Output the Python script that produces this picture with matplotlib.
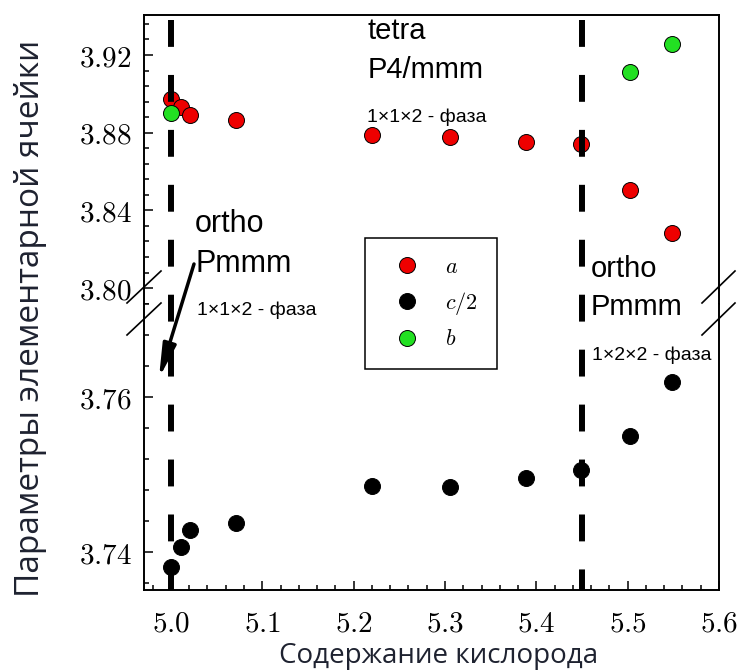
import matplotlib
matplotlib.use("Agg")
import matplotlib.pyplot as plt
from matplotlib.lines import Line2D
from matplotlib.patches import FancyArrowPatch
from matplotlib.ticker import MultipleLocator, FuncFormatter
import matplotlib.transforms as mtransforms

# ---------------- data ----------------
oxygen = [5.000, 5.011, 5.021, 5.071, 5.220, 5.305, 5.389, 5.449, 5.503, 5.549]
a_param = [3.8973, 3.8932, 3.8890, 3.8865, 3.8788, 3.8778, 3.8752, 3.8742, 3.8505, 3.8283]
c_half = [3.7381, 3.7406, 3.7428, 3.7437, 3.7485, 3.7484, 3.7495, 3.7506, 3.7550, 3.7619]
oxygen_b = [5.000, 5.503, 5.549]
b_param = [3.8901, 3.9112, 3.9257]
phase_bounds = [5.00, 5.45]
series_labels = ["$a$", "$c/2$", "$b$"]
xlabel = "Содержание кислорода"
ylabel = "Параметры элементарной ячейки"

plt.rcParams["mathtext.fontset"] = "cm"
plt.rcParams["font.family"] = ["Liberation Sans", "DejaVu Sans"]

W, H = 739, 672
fig = plt.figure(figsize=(W / 100, H / 100), dpi=100)
fig.patch.set_facecolor("white")


def fx(p):
    return p / W


def fy(p):
    return 1 - p / H


L, R, T, B, S = 144, 719, 15, 590, 304
ax_top = fig.add_axes([fx(L), fy(S), fx(R) - fx(L), fy(T) - fy(S)])
ax_bot = fig.add_axes([fx(L), fy(B), fx(R) - fx(L), fy(S) - fy(B)], sharex=ax_top)

red, green, black = "#ee0000", "#22e022", "#000000"
ms = 11.5
for ax in (ax_top, ax_bot):
    ax.plot(oxygen, a_param, "o", ms=ms, mfc=red, mec="k", mew=0.7, label=series_labels[0])
    ax.plot(oxygen, c_half, "o", ms=ms, mfc=black, mec="k", mew=0.7, label=series_labels[1])
    ax.plot(oxygen_b, b_param, "o", ms=ms, mfc=green, mec="k", mew=0.7, label=series_labels[2])
    for sp in ax.spines.values():
        sp.set_linewidth(1.4)
    ax.tick_params(axis="both", which="both", direction="in", right=False, top=False,
                   width=1.1, labelsize=21)
    ax.tick_params(which="major", length=6.5)
    ax.tick_params(which="minor", length=3.6)
    ax.set_facecolor("white")

ax_top.set_xlim(4.9705, 5.600)
ax_top.set_ylim(3.7918, 3.9406)
ax_bot.set_ylim(3.7351, 3.7720)

ax_top.spines["bottom"].set_visible(False)
ax_bot.spines["top"].set_visible(False)
ax_top.tick_params(axis="x", which="both", bottom=False, labelbottom=False)

ax_bot.xaxis.set_major_locator(MultipleLocator(0.1))
ax_bot.xaxis.set_minor_locator(MultipleLocator(0.02))
ax_top.yaxis.set_major_locator(MultipleLocator(0.04))
ax_top.yaxis.set_minor_locator(MultipleLocator(0.008))
ax_bot.yaxis.set_major_locator(MultipleLocator(0.02))
ax_bot.yaxis.set_minor_locator(MultipleLocator(0.004))

ax_bot.xaxis.set_major_formatter(FuncFormatter(lambda v, p: f"${v:.1f}$"))
for ax in (ax_top, ax_bot):
    ax.yaxis.set_major_formatter(FuncFormatter(lambda v, p: f"${v:.2f}$"))
    ax.tick_params(axis="y", pad=9)
ax_bot.tick_params(axis="x", pad=14)

# break marks
for x0, x1 in ((127, 161), (702, 735)):
    for y0 in (303, 335):
        fig.add_artist(Line2D([fx(x0), fx(x1)], [fy(y0), fy(y0 - 32)], color="k", lw=1.2,
                              transform=fig.transFigure))

# phase boundaries (dashed, continuous through the break)
trans = mtransforms.blended_transform_factory(ax_bot.transData, fig.transFigure)
for xv in phase_bounds:
    fig.add_artist(Line2D([xv, xv], [fy(20), fy(B)], transform=trans, color="k", lw=4.3,
                          linestyle=(0, (4.5, 4.7)), zorder=3))

# annotations
txt = dict(ha="left", va="baseline", color="k")
fig.text(fx(368), fy(39), "tetra", fontsize=21, **txt)
fig.text(fx(368), fy(78), "P4/mmm", fontsize=21, **txt)
fig.text(fx(367), fy(122), "1×1×2 - фаза", fontsize=14, **txt)
fig.text(fx(195), fy(232), "ortho", fontsize=22, **txt)
fig.text(fx(195), fy(272), "Pmmm", fontsize=22, **txt)
fig.text(fx(197), fy(315), "1×1×2 - фаза", fontsize=14, **txt)
fig.text(fx(591), fy(277), "ortho", fontsize=21, **txt)
fig.text(fx(591), fy(315), "Pmmm", fontsize=21, **txt)
fig.text(fx(592), fy(360), "1×2×2 - фаза", fontsize=14, **txt)

arrow = FancyArrowPatch((fx(194), fy(264)), (fx(159), fy(378)), transform=fig.transFigure,
                        arrowstyle="-|>,head_length=1.0,head_width=0.2", lw=2.5,
                        color="k", shrinkA=0, shrinkB=0, mutation_scale=20, zorder=4)
fig.add_artist(arrow)

# axis labels
fig.text(fx(31), fy(318), ylabel, rotation=90, ha="center", va="center",
         fontsize=24, family="Open Sans", color="#1e2230")
fig.text(fx(439), fy(656), xlabel, ha="center", va="center",
         fontsize=20, family="Open Sans", color="#1e2230")

# legend
handles, labels = ax_top.get_legend_handles_labels()
leg = fig.legend(handles, labels, loc="upper left", bbox_to_anchor=(fx(365), fy(238)),
                 bbox_transform=fig.transFigure, borderaxespad=0, frameon=True,
                 fancybox=False, edgecolor="k", framealpha=1, fontsize=16,
                 borderpad=0.85, handlelength=2.07, handletextpad=0.68, labelspacing=0.55)
leg.get_frame().set_linewidth(1.1)
leg.set_zorder(5)

fig.savefig("out.png", dpi=100)
